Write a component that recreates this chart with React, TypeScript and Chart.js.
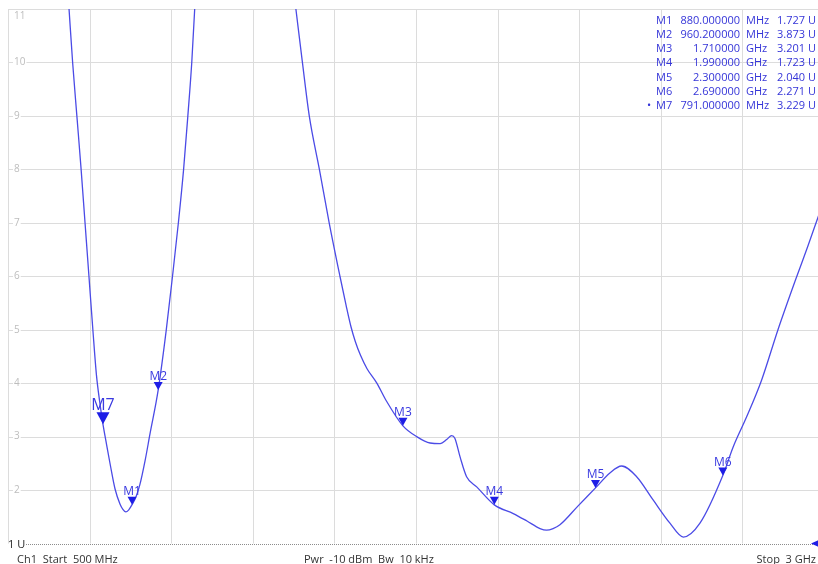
import React, { useEffect, useRef } from "react";
import { Chart, registerables } from "chart.js";

Chart.register(...registerables);

// ---- data (frequency in MHz, SWR in U) ----
const freqMHz = [
  500, 676, 687, 698, 711, 724, 736, 748, 760, 771, 781, 791, 800, 814, 828, 843, 852, 861, 870, 880,
  892, 904, 920, 935, 960.2, 985, 1004, 1022, 1038, 1051, 1063, 1072, 1080,
  1362, 1382, 1402, 1423, 1454, 1484, 1517, 1536, 1551, 1564, 1580, 1600, 1630, 1658, 1710, 1752, 1793, 1824,
  1845, 1859, 1869, 1885, 1905, 1936, 1990, 2048, 2090, 2130, 2150, 2170, 2191, 2246, 2300, 2344,
  2380, 2426, 2477, 2528, 2569, 2620, 2690, 2722, 2763, 2809, 2859, 2912, 2951, 2982, 3000,
];
const swr = [
  12, 12, 11, 10, 9, 8, 7, 6, 5, 4.15, 3.65, 3.229, 2.92, 2.45, 2.02, 1.74, 1.64, 1.59, 1.63, 1.727,
  1.87, 2.1, 2.55, 3.05, 3.873, 5, 6, 7, 8, 9, 10, 11, 12,
  12, 11, 10, 9, 8, 7, 6, 5.45, 5.05, 4.78, 4.52, 4.27, 4.0, 3.68, 3.201, 3.0, 2.88, 2.87,
  2.95, 3.02, 2.97, 2.62, 2.25, 2.06, 1.723, 1.56, 1.42, 1.28, 1.25, 1.28, 1.35, 1.7, 2.04, 2.32,
  2.45, 2.25, 1.81, 1.38, 1.12, 1.38, 2.271, 2.81, 3.37, 4.06, 5.0, 5.92, 6.57, 7.11, 7.42,
];

const markerNames = ["M1", "M2", "M3", "M4", "M5", "M6", "M7"];
const markerFreqMHz = [880, 960.2, 1710, 1990, 2300, 2690, 791];
const markerSwr = [1.727, 3.873, 3.201, 1.723, 2.04, 2.271, 3.229];
const activeMarker = "M7";

const yGridValues = [2, 3, 4, 5, 6, 7, 8, 9, 10, 11];
const yTickLabels = ["2", "3", "4", "5", "6", "7", "8", "9", "10", "11"];
const xGridMHz = [500, 750, 1000, 1250, 1500, 1750, 2000, 2250, 2500, 2750, 3000];

const startText = "Ch1  Start  500 MHz";
const midText = "Pwr  -10 dBm  Bw  10 kHz";
const stopText = "Stop  3 GHz";
const refText = "1 U";

const FONT = "'Open Sans', 'Noto Sans', sans-serif";
const CANVAS_W = 830;
const CANVAS_H = 564;

function fmtFreq(f: number): [string, string] {
  if (f < 1000) return [f.toFixed(6), "MHz"];
  return [(f / 1000).toFixed(6), "GHz"];
}

const overlay = {
  id: "vnaOverlay",
  beforeDatasetsDraw(chart: any) {
    const { ctx, chartArea, scales } = chart;
    const { left, right, top, bottom } = chartArea;
    const x = scales.x;
    const y = scales.y;
    ctx.save();
    ctx.lineWidth = 1;
    ctx.strokeStyle = "#dcdcdc";
    xGridMHz.forEach((f) => {
      const px = Math.round(x.getPixelForValue(f)) + 0.5;
      ctx.beginPath();
      ctx.moveTo(px, top);
      ctx.lineTo(px, bottom);
      ctx.stroke();
    });
    yGridValues.forEach((v) => {
      const py = Math.round(y.getPixelForValue(v)) + 0.5;
      ctx.beginPath();
      ctx.moveTo(left, py);
      ctx.lineTo(right, py);
      ctx.stroke();
    });
    ctx.font = `10px ${FONT}`;
    ctx.textBaseline = "middle";
    ctx.textAlign = "left";
    yGridValues.forEach((v, i) => {
      let py = y.getPixelForValue(v);
      if (v === 11) py = top + 7;
      const t = yTickLabels[i];
      const w = ctx.measureText(t).width;
      ctx.fillStyle = "#ffffff";
      ctx.fillRect(left + 5, py - 5, w + 2, 10);
      ctx.fillStyle = "#bdbdbd";
      ctx.fillText(t, left + 6, py);
    });
    ctx.setLineDash([1, 1]);
    ctx.strokeStyle = "#8c8c8c";
    ctx.beginPath();
    ctx.moveTo(left + 18, Math.round(bottom) + 0.5);
    ctx.lineTo(right, Math.round(bottom) + 0.5);
    ctx.stroke();
    ctx.setLineDash([]);
    ctx.restore();
  },
  afterDatasetsDraw(chart: any) {
    const { ctx, chartArea, scales } = chart;
    const { left, bottom } = chartArea;
    const x = scales.x;
    const y = scales.y;
    ctx.save();

    markerNames.forEach((name, i) => {
      const px = x.getPixelForValue(markerFreqMHz[i]);
      const py = y.getPixelForValue(markerSwr[i]);
      const big = name === activeMarker;
      const w = big ? 13 : 9;
      const h = big ? 12 : 8;
      ctx.fillStyle = "#1e1ee6";
      ctx.beginPath();
      ctx.moveTo(px - w / 2, py - h);
      ctx.lineTo(px + w / 2, py - h);
      ctx.lineTo(px, py);
      ctx.closePath();
      ctx.fill();
      ctx.fillStyle = "#3a3ae0";
      ctx.font = big ? `16px ${FONT}` : `12px ${FONT}`;
      ctx.textAlign = "center";
      ctx.textBaseline = "alphabetic";
      ctx.fillText(name, px, py - h - 2);
    });

    ctx.font = `11px ${FONT}`;
    ctx.fillStyle = "#3535d8";
    ctx.textBaseline = "middle";
    markerNames.forEach((name, i) => {
      const ry = 21 + i * 14.1;
      const [fv, unit] = fmtFreq(markerFreqMHz[i]);
      if (name === activeMarker) {
        ctx.textAlign = "center";
        ctx.fillText("•", 649, ry);
      }
      ctx.textAlign = "left";
      ctx.fillText(name, 656, ry);
      ctx.textAlign = "right";
      ctx.fillText(fv, 740, ry);
      ctx.textAlign = "left";
      ctx.fillText(unit, 746, ry);
      ctx.fillText(markerSwr[i].toFixed(3) + " U", 777, ry);
    });

    ctx.fillStyle = "#1e1ee6";
    ctx.beginPath();
    ctx.moveTo(811, bottom);
    ctx.lineTo(821, bottom - 4.5);
    ctx.lineTo(821, bottom + 4.5);
    ctx.closePath();
    ctx.fill();

    ctx.fillStyle = "#222222";
    ctx.font = `11px ${FONT}`;
    ctx.textBaseline = "alphabetic";
    ctx.textAlign = "left";
    ctx.fillText(refText, left, bottom + 4.5);
    ctx.fillStyle = "#333333";
    ctx.fillText(startText, 17, 563);
    ctx.fillText(midText, 304, 563);
    ctx.textAlign = "right";
    ctx.fillText(stopText, 816, 563);
    ctx.restore();
  },
};

export default function App() {
  const ref = useRef<HTMLCanvasElement | null>(null);
  useEffect(() => {
    if (!ref.current) return;
    const points = freqMHz.map((f, i) => ({ x: f, y: swr[i] }));
    const chart = new Chart(ref.current, {
      type: "line",
      data: {
        datasets: [
          {
            data: points,
            borderColor: "#4b4be6",
            borderWidth: 1.3,
            pointRadius: 0,
            cubicInterpolationMode: "monotone",
            fill: false,
          },
        ],
      },
      options: {
        responsive: false,
        animation: false,
        events: [],
        layout: { padding: { left: 8, right: CANVAS_W - 824, top: 9, bottom: 20.5 } },
        plugins: { legend: { display: false }, tooltip: { enabled: false } },
        scales: {
          x: { type: "linear", min: 500, max: 3000, display: false },
          y: { type: "linear", min: 1, max: 11, display: false },
        },
      },
      plugins: [overlay],
    });
    return () => chart.destroy();
  }, []);
  return (
    <div
      style={{
        position: "fixed",
        left: 0,
        top: 0,
        width: 818,
        height: 564,
        overflow: "hidden",
        background: "#ffffff",
      }}
    >
      <canvas ref={ref} width={CANVAS_W} height={CANVAS_H} style={{ display: "block" }} />
    </div>
  );
}
